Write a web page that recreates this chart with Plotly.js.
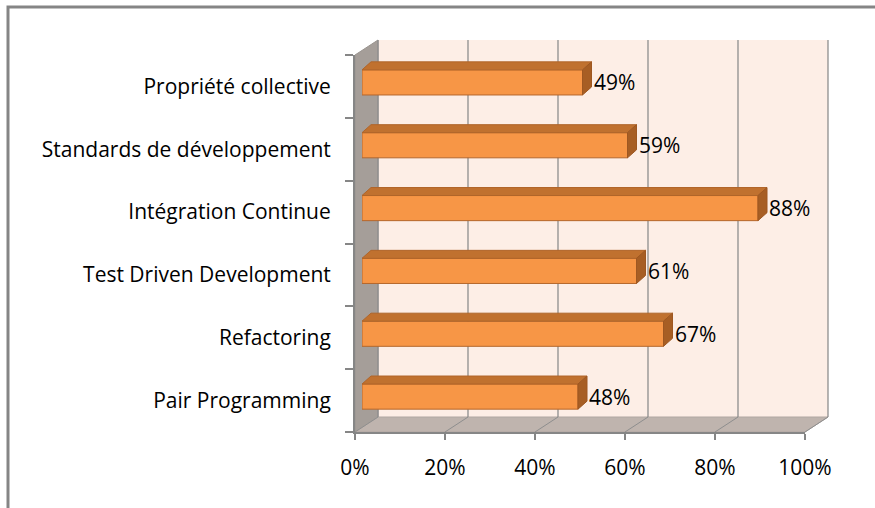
<!DOCTYPE html>
<html>
<head>
<meta charset="utf-8">
<script src="https://cdn.plot.ly/plotly-3.0.1.min.js"></script>
<style>html,body{margin:0;padding:0;background:#fff;}#chart{width:875px;height:508px;}</style>
</head>
<body>
<div id="chart"></div>
<script>
// ---- data ----
const categories = ["Pair Programming", "Refactoring", "Test Driven Development", "Intégration Continue", "Standards de développement", "Propriété collective"];
const values = [48, 67, 61, 88, 59, 49];
const xTickVals = [0, 20, 40, 60, 80, 100];
const xTickText = ["0%", "20%", "40%", "60%", "80%", "100%"];
const valueLabels = values.map(v => v + "%");

// ---- geometry (pixels) ----
const W = 875, H = 508;
const front = {x0: 355, x1: 805, yTop: 55, yBot: 432};
const depth = {dx: 23, dy: -15};
const barPlane = {dx: 7, dy: -4};
const face = {dx: 9, dy: -8};
const barWidth = 0.4;
const fontFam = "'Open Sans', 'Noto Sans', sans-serif";
const fontSize = 21;

const px = x => x / W;
const py = y => 1 - y / H;

const pxPerX = (front.x1 - front.x0) / 100;
const pxPerY = (front.yBot - front.yTop) / categories.length;
const fdx = face.dx / pxPerX, fdy = -face.dy / pxPerY;

const idx = categories.map((c, i) => i);

// top faces & side faces
const topX = [], topY = [], sideX = [], sideY = [];
values.forEach((v, i) => {
  const yt = i + barWidth / 2, yb = i - barWidth / 2;
  topX.push(0, v, v + fdx, fdx, 0, null);
  topY.push(yt, yt, yt + fdy, yt + fdy, yt, null);
  sideX.push(v, v + fdx, v + fdx, v, v, null);
  sideY.push(yb, yb + fdy, yt + fdy, yt, yb, null);
});

const traces = [
  {type: 'scatter', x: values, y: categories, xaxis: 'x', yaxis: 'y', mode: 'markers',
   marker: {opacity: 0}, hoverinfo: 'skip', showlegend: false},
  {type: 'bar', orientation: 'h', x: values, y: idx, xaxis: 'x2', yaxis: 'y2', width: barWidth,
   marker: {color: '#F79646', line: {color: '#B5672C', width: 1}}, hoverinfo: 'skip', showlegend: false},
  {type: 'scatter', x: topX, y: topY, xaxis: 'x2', yaxis: 'y2', mode: 'lines', fill: 'toself',
   fillcolor: '#C0712F', line: {color: '#B0652A', width: 1}, hoverinfo: 'skip', showlegend: false},
  {type: 'scatter', x: sideX, y: sideY, xaxis: 'x2', yaxis: 'y2', mode: 'lines', fill: 'toself',
   fillcolor: '#A75E24', line: {color: '#9E5721', width: 1}, hoverinfo: 'skip', showlegend: false}
];

// ---- decorative 3D walls ----
const shapes = [];
const bx0 = front.x0 + depth.dx, bx1 = front.x1 + depth.dx;
const byTop = front.yTop + depth.dy, byBot = front.yBot + depth.dy;
function poly(pts, fill, line, lw) {
  const d = pts.map((p, k) => (k ? 'L' : 'M') + px(p[0]) + ',' + py(p[1])).join(' ') + ' Z';
  shapes.push({type: 'path', xref: 'paper', yref: 'paper', path: d, fillcolor: fill,
    line: {color: line, width: lw}, layer: 'below'});
}
function seg(x0, y0, x1, y1, color, w) {
  shapes.push({type: 'line', xref: 'paper', yref: 'paper', x0: px(x0), y0: py(y0), x1: px(x1), y1: py(y1),
    line: {color: color, width: w}, layer: 'below'});
}
// back wall
poly([[bx0, byTop], [bx1, byTop], [bx1, byBot], [bx0, byBot]], '#FDEEE6', 'rgba(0,0,0,0)', 0);
// left wall
poly([[front.x0, front.yTop], [bx0, byTop], [bx0, byBot], [front.x0, front.yBot]], '#A59E99', '#9A948F', 1);
// floor
poly([[front.x0, front.yBot], [front.x1, front.yBot], [bx1, byBot], [bx0, byBot]], '#BFB4AE', '#B0A7A2', 1);
// gridlines on back wall and floor
xTickVals.forEach(v => {
  const xf = front.x0 + v * pxPerX, xb = bx0 + v * pxPerX;
  seg(xb, byTop, xb, byBot, '#8E8E8E', 1.3);
  seg(xf, front.yBot, xb, byBot, '#8E8E8E', 1);
});
// outer border
shapes.push({type: 'rect', xref: 'paper', yref: 'paper', x0: px(8), y0: py(7), x1: px(W + 20), y1: py(H + 20),
  line: {color: '#858585', width: 3}, fillcolor: 'rgba(0,0,0,0)', layer: 'below'});

// ---- data labels ----
const annotations = values.map((v, i) => ({
  xref: 'x2', yref: 'y2', x: v, y: i, text: valueLabels[i], showarrow: false,
  xanchor: 'left', yanchor: 'middle', xshift: 9, yshift: 0,
  font: {family: fontFam, size: fontSize, color: '#000'}
}));

const layout = {
  width: W, height: H,
  margin: {l: 0, r: 0, t: 0, b: 0},
  paper_bgcolor: '#fff', plot_bgcolor: 'rgba(0,0,0,0)',
  showlegend: false,
  font: {family: fontFam, size: fontSize, color: '#000'},
  xaxis: {domain: [px(front.x0), px(front.x1)], range: [0, 100], anchor: 'y',
    tickvals: xTickVals, ticktext: xTickText, ticks: 'outside', ticklen: 6, tickwidth: 2, tickcolor: '#868686',
    showline: true, linecolor: '#868686', linewidth: 2, showgrid: false, zeroline: false,
    ticklabelstandoff: 10, fixedrange: true},
  yaxis: {domain: [py(front.yBot), py(front.yTop)], type: 'category', categoryarray: categories,
    categoryorder: 'array', range: [-0.5, categories.length - 0.5], anchor: 'x',
    ticks: 'outside', tickson: 'boundaries', ticklen: 8, tickwidth: 2, tickcolor: '#868686',
    showline: true, linecolor: '#868686', linewidth: 2, showgrid: false, zeroline: false,
    ticklabelstandoff: 18, fixedrange: true},
  xaxis2: {domain: [px(front.x0 + barPlane.dx), px(front.x1 + barPlane.dx)], range: [0, 100], anchor: 'y2',
    visible: false, fixedrange: true},
  yaxis2: {domain: [py(front.yBot + barPlane.dy), py(front.yTop + barPlane.dy)], range: [-0.5, categories.length - 0.5],
    anchor: 'x2', visible: false, fixedrange: true},
  shapes: shapes,
  annotations: annotations
};

Plotly.newPlot('chart', traces, layout, {displayModeBar: false, staticPlot: true});
</script>
</body>
</html>
